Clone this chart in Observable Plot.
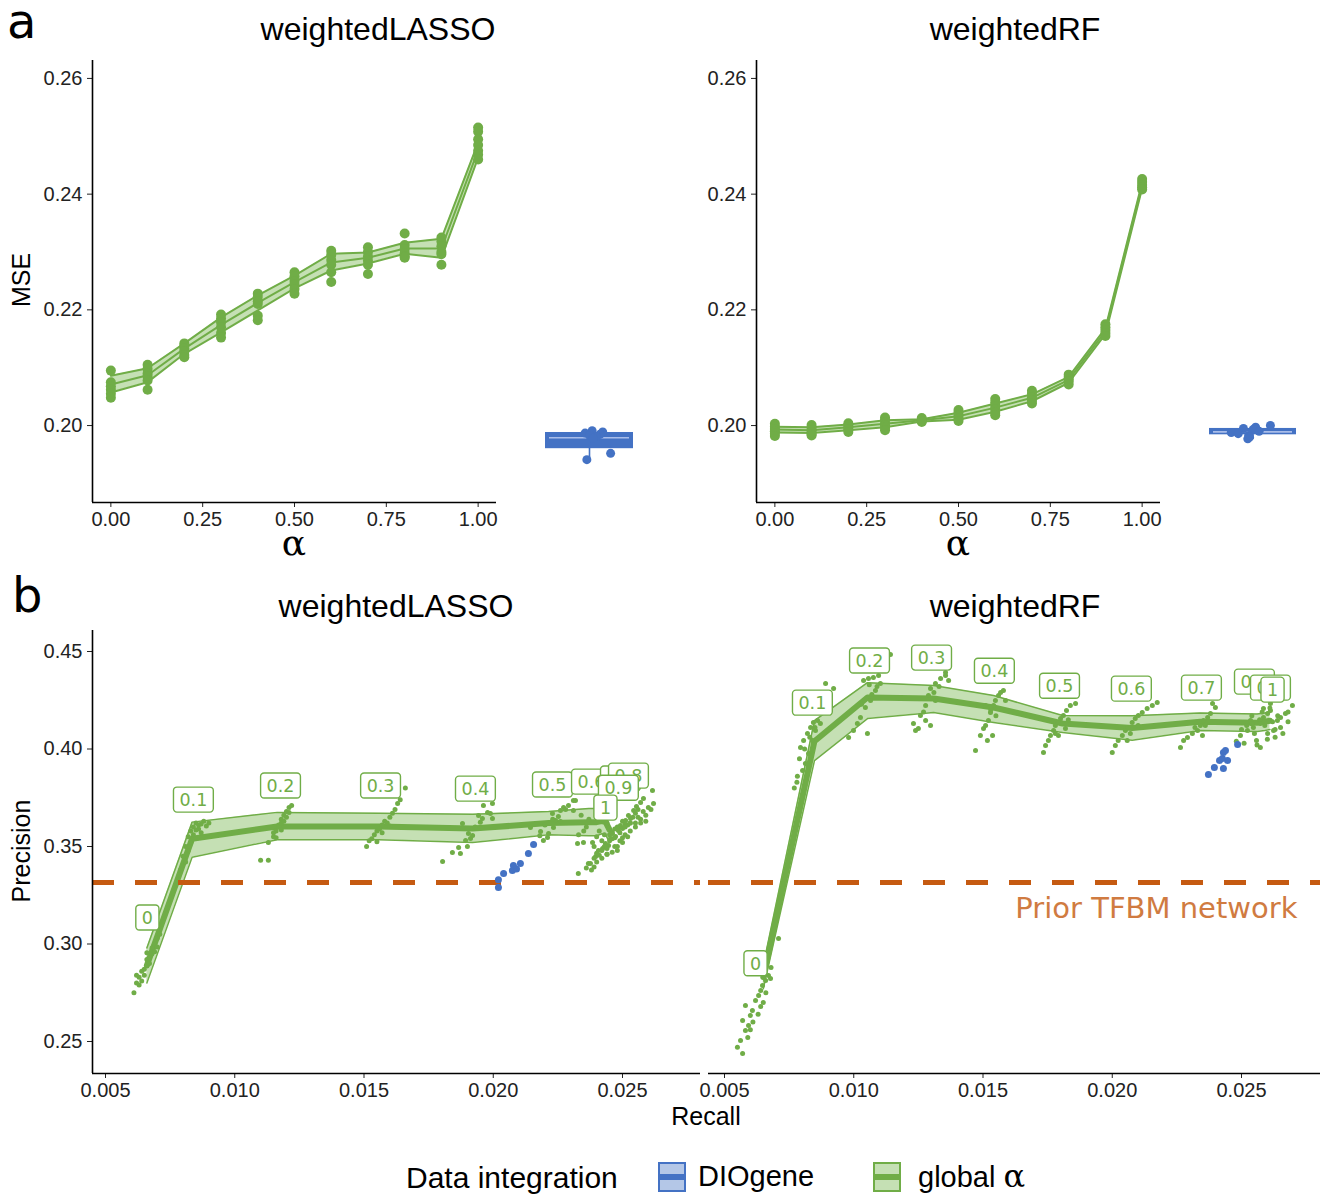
<!DOCTYPE html>
<html><head><meta charset="utf-8">
<script src="https://cdn.jsdelivr.net/npm/d3@7"></script>
<script src="https://cdn.jsdelivr.net/npm/@observablehq/plot@0.6"></script>
<style>
body{margin:0;background:#fff;}
#root{position:relative;width:1328px;height:1196px;overflow:hidden;font-family:"Liberation Sans",Arial,sans-serif;color:#000;}
.abs{position:absolute;white-space:nowrap;line-height:1.1;}
.c{transform:translate(-50%,-50%);}
.rot{transform:translate(-50%,-50%) rotate(-90deg);}
.title{font-size:32px;}
.panel{font-family:"DejaVu Sans",sans-serif;font-size:48px;line-height:0.6;}
.axt{font-size:25px;}
.alpha{font-family:"DejaVu Serif",serif;font-size:36px;}
.key{position:absolute;width:24px;height:26px;border:2px solid;top:1162px;}
.key i{position:absolute;left:0;right:0;top:10px;height:6px;}
.leg{font-size:29px;top:1177px;transform:translateY(-50%);}
</style></head><body><div id="root"></div>
<script>
// ---------- colours ----------
const GREEN = "#70AD47", GREEN_L = "#C5E0B4", BLUE = "#4472C4", BLUE_L = "#B4C7E7", ORANGE = "#C55A11";

// ---------- panel a : MSE vs alpha ----------
const alphas = [0, 0.1, 0.2, 0.3, 0.4, 0.5, 0.6, 0.7, 0.8, 0.9, 1];
const alphaTicks = [0, 0.25, 0.5, 0.75, 1];
const mseTicks = [0.20, 0.22, 0.24, 0.26];

const lassoMseLo   = [0.2057, 0.2075, 0.2124, 0.2161, 0.2199, 0.2237, 0.2268, 0.2280, 0.2297, 0.2290, 0.2463];
const lassoMseMean = [0.2071, 0.2087, 0.2133, 0.2174, 0.2212, 0.2248, 0.2282, 0.2290, 0.2306, 0.2306, 0.2476];
const lassoMseHi   = [0.2086, 0.2099, 0.2142, 0.2187, 0.2225, 0.2259, 0.2297, 0.2299, 0.2316, 0.2323, 0.2489];
const lassoMseReps = [
  [0.2095, 0.2075, 0.2068, 0.2062, 0.2055, 0.2048],
  [0.2105, 0.2098, 0.2090, 0.2085, 0.2078, 0.2062],
  [0.2142, 0.2138, 0.2133, 0.2128, 0.2122, 0.2118],
  [0.2192, 0.2185, 0.2178, 0.2170, 0.2160, 0.2152],
  [0.2228, 0.2222, 0.2215, 0.2210, 0.2190, 0.2182],
  [0.2265, 0.2258, 0.2250, 0.2244, 0.2236, 0.2228],
  [0.2302, 0.2295, 0.2286, 0.2278, 0.2265, 0.2248],
  [0.2308, 0.2300, 0.2292, 0.2285, 0.2278, 0.2262],
  [0.2332, 0.2312, 0.2305, 0.2298, 0.2292, 0.2290],
  [0.2325, 0.2318, 0.2310, 0.2300, 0.2296, 0.2278],
  [0.2515, 0.2508, 0.2495, 0.2485, 0.2475, 0.2468, 0.2460]
];
const rfMseLo   = [0.1988, 0.1987, 0.1992, 0.1997, 0.2007, 0.2010, 0.2024, 0.2042, 0.2074, 0.2158, 0.2410];
const rfMseMean = [0.1993, 0.1992, 0.1997, 0.2003, 0.2009, 0.2016, 0.2031, 0.2048, 0.2079, 0.2163, 0.2415];
const rfMseHi   = [0.1998, 0.1997, 0.2002, 0.2009, 0.2011, 0.2022, 0.2038, 0.2054, 0.2084, 0.2168, 0.2420];
const rfMseReps = [
  [0.2003, 0.1998, 0.1994, 0.1990, 0.1986, 0.1982],
  [0.2001, 0.1996, 0.1992, 0.1989, 0.1985, 0.1983],
  [0.2004, 0.2000, 0.1997, 0.1993, 0.1989],
  [0.2014, 0.2010, 0.2005, 0.2000, 0.1996, 0.1992],
  [0.2013, 0.2010, 0.2008, 0.2006],
  [0.2027, 0.2022, 0.2017, 0.2012, 0.2008],
  [0.2046, 0.2040, 0.2034, 0.2028, 0.2022, 0.2018],
  [0.2060, 0.2055, 0.2049, 0.2043, 0.2038],
  [0.2088, 0.2084, 0.2080, 0.2076, 0.2071],
  [0.2175, 0.2170, 0.2165, 0.2160, 0.2155],
  [0.2426, 0.2421, 0.2416, 0.2412, 0.2408]
];
// DIOgene boxes: [lower whisker, q1, median, q3, upper whisker]; box spans the category's width
const dioBoxSpan = [-0.5, 0.5];
const dioLassoStats = [0.1941, 0.1960, 0.1979, 0.1988, 0.1991];
const dioLassoMse    = [0.1991, 0.1989, 0.1987, 0.1985, 0.1983, 0.1981, 0.1978, 0.1952, 0.1941];
const dioLassoJitter = [0.03, 0.15, -0.05, 0.12, 0.0, 0.08, 0.04, 0.24, -0.03];
const dioRfStats = [0.1976, 0.1984, 0.1989, 0.1995, 0.2000];
const dioRfMse    = [0.2000, 0.1997, 0.1995, 0.1993, 0.1990, 0.1988, 0.1986, 0.1983, 0.1980, 0.1977];
const dioRfJitter = [0.20, 0.03, -0.11, 0.0, 0.07, -0.25, -0.17, -0.05, -0.04, -0.06];

// ---------- panel b : precision vs recall ----------
const recallTicks = [0.005, 0.010, 0.015, 0.020, 0.025];
const precisionTicks = [0.25, 0.30, 0.35, 0.40, 0.45];
const priorPrecision = 0.3315;
const alphaLabels = ["0", "0.1", "0.2", "0.3", "0.4", "0.5", "0.6", "0.7", "0.8", "0.9", "1"];

const lassoRecallMean = [0.0066, 0.00835, 0.01164, 0.01556, 0.0192, 0.02214, 0.0237, 0.0240, 0.0242, 0.02435, 0.0245];
const lassoPrecMean   = [0.289, 0.354, 0.3603, 0.3603, 0.3592, 0.362, 0.3625, 0.3625, 0.363, 0.3625, 0.3585];
const lassoPrecLo     = [0.280, 0.3445, 0.3535, 0.3535, 0.352, 0.356, 0.3555, 0.3555, 0.3565, 0.356, 0.352];
const lassoPrecHi     = [0.298, 0.3625, 0.3675, 0.367, 0.3665, 0.368, 0.3695, 0.3695, 0.3700, 0.369, 0.365];
const lassoPR = [
  [[0.0061,0.275],[0.0062,0.280],[0.0063,0.283],[0.0064,0.286],[0.0065,0.284],[0.0066,0.289],[0.0066,0.292],[0.0067,0.290],[0.0068,0.295],[0.0068,0.298],[0.0069,0.300],[0.0070,0.303],[0.0069,0.296],[0.0065,0.287],[0.0064,0.281],[0.0071,0.305],[0.0063,0.279],[0.0067,0.293],[0.0062,0.284],[0.0066,0.2955],[0.0070,0.2985]],
  [[0.0080,0.345],[0.0081,0.350],[0.0082,0.355],[0.0083,0.358],[0.0084,0.360],[0.0085,0.362],[0.0086,0.361],[0.0088,0.363],[0.0090,0.362],[0.0083,0.352],[0.0082,0.348],[0.0081,0.342],[0.0084,0.356],[0.0086,0.359],[0.0079,0.338],[0.0087,0.357],[0.0085,0.3585],[0.0087,0.3615],[0.0089,0.3605]],
  [[0.0113,0.352],[0.0115,0.355],[0.0116,0.358],[0.0117,0.361],[0.0118,0.364],[0.0119,0.366],[0.0120,0.368],[0.0121,0.370],[0.0122,0.371],[0.0117,0.360],[0.0118,0.362],[0.0115,0.357],[0.0110,0.343],[0.0113,0.343],[0.0120,0.365],[0.0119,0.363],[0.0116,0.3545],[0.0121,0.3675],[0.0118,0.3585]],
  [[0.0151,0.350],[0.0152,0.353],[0.0154,0.356],[0.0155,0.358],[0.0157,0.361],[0.0158,0.363],[0.0160,0.365],[0.0161,0.367],[0.0156,0.359],[0.0159,0.362],[0.0162,0.369],[0.0163,0.372],[0.0164,0.374],[0.0153,0.354],[0.0166,0.380],[0.0157,0.357],[0.0155,0.3525],[0.0160,0.3605]],
  [[0.01804,0.3423],[0.01842,0.3469],[0.01873,0.3464],[0.01866,0.3495],[0.0190,0.350],[0.01893,0.3531],[0.01912,0.3541],[0.0192,0.3556],[0.01904,0.3567],[0.01881,0.3618],[0.01943,0.3659],[0.01958,0.3644],[0.01978,0.3674],[0.01989,0.3669],[0.01997,0.3644],[0.01962,0.371],[0.01997,0.372],[0.0193,0.3600],[0.0195,0.3625]],
  [[0.0221,0.3546],[0.02194,0.3531],[0.02318,0.3736],[0.02272,0.370],[0.02229,0.3669],[0.0226,0.3684],[0.02233,0.3597],[0.02214,0.3567],[0.02183,0.3577],[0.02144,0.3597],[0.02241,0.3633],[0.0226,0.3628],[0.02252,0.3654],[0.0220,0.3610],[0.0223,0.3640],[0.0228,0.3690],[0.0218,0.3555]],
  [[0.02291,0.371],[0.0231,0.3685],[0.0231,0.3736],[0.02326,0.3515],[0.02349,0.352],[0.02368,0.3413],[0.02384,0.352],[0.02329,0.3362],[0.0236,0.3600],[0.0237,0.3640],[0.0234,0.3660],[0.0233,0.3560],[0.0235,0.3580]],
  [[0.02396,0.3449],[0.02407,0.3479],[0.02423,0.349],[0.02446,0.3505],[0.0245,0.356],[0.0248,0.360],[0.0250,0.363],[0.0244,0.3620],[0.0241,0.3580],[0.0240,0.355],[0.0239,0.3500],[0.0242,0.3530],[0.0246,0.3540],[0.0243,0.3560],[0.0247,0.3590],[0.0249,0.3600],[0.0251,0.3615],[0.0246,0.3575]],
  [[0.02434,0.3515],[0.02454,0.3541],[0.02461,0.3567],[0.02473,0.3551],[0.02484,0.3582],[0.02492,0.3608],[0.025,0.3592],[0.02512,0.3633],[0.0252,0.3610],[0.0254,0.3650],[0.0244,0.3460],[0.0247,0.3500],[0.0249,0.3530],[0.0251,0.3560],[0.0253,0.3580],[0.0255,0.3620],[0.0257,0.3640],[0.0250,0.3545],[0.0248,0.3480]],
  [[0.02523,0.3659],[0.02531,0.3644],[0.02543,0.3685],[0.02554,0.3705],[0.0257,0.3726],[0.02581,0.3746],[0.02616,0.3787],[0.0255,0.3670],[0.0253,0.3620],[0.0256,0.3690],[0.0255,0.3600],[0.0257,0.3620],[0.0259,0.3660],[0.0260,0.3700],[0.0262,0.3720],[0.0258,0.3680],[0.0256,0.3650],[0.0261,0.3690],[0.0259,0.3630]],
  [[0.02376,0.3413],[0.0239,0.3440],[0.0240,0.3465],[0.0242,0.3480],[0.0243,0.3500],[0.0245,0.3530],[0.0247,0.3545],[0.0249,0.357],[0.0244,0.3490],[0.0241,0.3455],[0.0251,0.360],[0.0253,0.362],[0.0238,0.3380],[0.0239,0.3395],[0.0240,0.3420],[0.0242,0.3440],[0.0244,0.3460],[0.0246,0.3470],[0.0248,0.3500],[0.0250,0.3520],[0.0252,0.3550],[0.0236,0.3390]]
];
const dioLassoPR = [[0.0202,0.329],[0.0202,0.333],[0.0204,0.3362],[0.02074,0.3377],[0.0209,0.3385],[0.02078,0.3403],[0.02105,0.3413],[0.02136,0.3464],[0.02156,0.351]];
const lassoLabelPos = [[0.00662,0.3131],[0.0084,0.3736],[0.01177,0.3808],[0.01564,0.3808],[0.01931,0.3792],[0.02229,0.3813],[0.0238,0.3828],[0.02492,0.3844],[0.02523,0.3859],[0.02484,0.3797],[0.02434,0.3695]];

const rfRecallMean = [0.0065, 0.00848, 0.01053, 0.01309, 0.01541, 0.01808, 0.02077, 0.0234, 0.0256, 0.0259, 0.0261];
const rfPrecMean   = [0.283, 0.404, 0.4264, 0.4259, 0.4213, 0.4131, 0.4108, 0.414, 0.4135, 0.414, 0.4145];
const rfPrecLo     = [0.277, 0.394, 0.4156, 0.4187, 0.4136, 0.4085, 0.4045, 0.4095, 0.409, 0.4095, 0.410];
const rfPrecHi     = [0.289, 0.4146, 0.434, 0.4326, 0.4274, 0.4172, 0.417, 0.4185, 0.418, 0.4185, 0.419];
const rfPR = [
  [[0.0057,0.2438],[0.00562,0.2505],[0.00581,0.2556],[0.00593,0.2582],[0.0057,0.2608],[0.006,0.2633],[0.00608,0.2659],[0.00581,0.2685],[0.0062,0.271],[0.00632,0.2736],[0.0064,0.2762],[0.00647,0.2787],[0.00659,0.2813],[0.0067,0.2838],[0.00678,0.2823],[0.00709,0.3028],[0.0059,0.2520],[0.0061,0.2600],[0.0064,0.2680],[0.0066,0.2750],[0.0055,0.2470],[0.0068,0.2880],[0.0060,0.2560],[0.0063,0.2640],[0.0065,0.2700]],
  [[0.00794,0.4008],[0.00806,0.4044],[0.00821,0.4079],[0.00833,0.411],[0.00844,0.4136],[0.0086,0.4146],[0.00871,0.4131],[0.00852,0.4095],[0.0084,0.4044],[0.00825,0.3977],[0.00813,0.3926],[0.00802,0.389],[0.00891,0.4336],[0.00922,0.431],[0.00782,0.3860],[0.0079,0.3950],[0.0077,0.3800],[0.0078,0.3830],[0.0081,0.4000],[0.0083,0.4060],[0.0085,0.4110]],
  [[0.01038,0.4351],[0.01057,0.4362],[0.01076,0.4367],[0.01096,0.4377],[0.01103,0.4336],[0.01084,0.43],[0.01065,0.4249],[0.01045,0.4213],[0.01026,0.4162],[0.01014,0.4131],[0.00999,0.4095],[0.01053,0.4079],[0.01142,0.4485],[0.0098,0.4059],[0.0107,0.4280],[0.0109,0.4320],[0.0103,0.4230],[0.0106,0.4330]],
  [[0.01231,0.4131],[0.01239,0.4095],[0.01258,0.4172],[0.01278,0.4223],[0.01289,0.4274],[0.01297,0.431],[0.01316,0.4336],[0.01336,0.4362],[0.01355,0.4377],[0.01367,0.4351],[0.01316,0.4249],[0.01278,0.4146],[0.01297,0.4121],[0.0125,0.4105],[0.01355,0.4392],[0.0131,0.4290],[0.0127,0.4190],[0.0133,0.4320]],
  [[0.01471,0.3992],[0.0149,0.4069],[0.01502,0.4105],[0.0151,0.4121],[0.01521,0.4146],[0.01529,0.4187],[0.01541,0.4223],[0.01548,0.4249],[0.0156,0.4274],[0.01568,0.429],[0.01579,0.43],[0.0151,0.4223],[0.01587,0.4249],[0.01537,0.4069],[0.01517,0.4044],[0.0155,0.4170],[0.0153,0.4200]],
  [[0.01742,0.4018],[0.01753,0.4044],[0.01761,0.4069],[0.01773,0.4095],[0.0178,0.4121],[0.01792,0.4136],[0.018,0.4156],[0.01811,0.4172],[0.01823,0.4197],[0.01838,0.4223],[0.01858,0.4233],[0.01792,0.4069],[0.01819,0.4105],[0.01734,0.3982],[0.0178,0.4080],[0.0183,0.4150]],
  [[0.02,0.3982],[0.02012,0.4018],[0.02023,0.4044],[0.02039,0.4069],[0.02051,0.4095],[0.02062,0.411],[0.02077,0.4136],[0.02089,0.4156],[0.02101,0.4172],[0.02116,0.4187],[0.02135,0.4208],[0.02155,0.4223],[0.02174,0.4238],[0.02058,0.4044],[0.0207,0.4080],[0.0210,0.4120]],
  [[0.02264,0.4008],[0.02276,0.4044],[0.02291,0.4059],[0.0231,0.4079],[0.0233,0.4095],[0.02341,0.4121],[0.02353,0.4146],[0.02369,0.4162],[0.0238,0.4182],[0.02388,0.4233],[0.02399,0.4213],[0.02349,0.4069],[0.0232,0.4110],[0.0236,0.4120]],
  [[0.02496,0.4069],[0.02523,0.4095],[0.02546,0.411],[0.02535,0.4146],[0.02558,0.4044],[0.0251,0.4030],[0.0254,0.4170],[0.0248,0.4040],[0.0250,0.4100],[0.0252,0.4120],[0.0255,0.4080],[0.0257,0.4150],[0.0254,0.4130],[0.0256,0.4020]],
  [[0.02573,0.4131],[0.02585,0.4162],[0.02601,0.4182],[0.02612,0.4197],[0.02573,0.4008],[0.02601,0.4079],[0.02624,0.4095],[0.0259,0.4120],[0.0260,0.4050],[0.0262,0.4140],[0.0258,0.4190],[0.0261,0.4210],[0.0263,0.4100]],
  [[0.02639,0.4146],[0.02651,0.4162],[0.0267,0.4182],[0.02697,0.4223],[0.02585,0.4208],[0.02612,0.4233],[0.02651,0.411],[0.0263,0.4060],[0.0268,0.4140],[0.0264,0.4170],[0.0266,0.4080],[0.0268,0.4190]]
];
const dioRfPR = [[0.02372,0.3869],[0.02395,0.3905],[0.02415,0.3941],[0.0243,0.3982],[0.02426,0.3951],[0.02446,0.3941],[0.0243,0.390],[0.02485,0.4023],[0.02438,0.3992]];
const rfLabelPos = [[0.0062,0.2897],[0.0084,0.4233],[0.01061,0.4449],[0.01301,0.4464],[0.01544,0.4397],[0.01796,0.432],[0.02074,0.4305],[0.02345,0.431],[0.0255,0.4341],[0.02612,0.431],[0.0262,0.43]];

// ---------- build tables ----------
const mseBand = (lo, mean, hi) => alphas.map((a, i) => ({alpha: a, lo: lo[i], mean: mean[i], hi: hi[i]}));
const msePts = reps => reps.flatMap((r, i) => r.map(v => ({alpha: alphas[i], mse: v})));
const dioStats = s => [{left: dioBoxSpan[0], right: dioBoxSpan[1], center: (dioBoxSpan[0] + dioBoxSpan[1]) / 2, lo: s[0], q1: s[1], med: s[2], q3: s[3], hi: s[4]}];
const dioPts = (arr, jit) => arr.map((v, i) => ({jit: jit[i], mse: v}));
const prBand = (r, m, lo, hi) => alphas.map((a, i) => ({alpha: a, recall: r[i], mean: m[i], lo: lo[i], hi: hi[i]}));
const prPts = clusters => clusters.flatMap((c, i) => c.map(([r, p]) => ({alpha: alphas[i], recall: r, precision: p})));
const pairPts = arr => arr.map(([r, p]) => ({recall: r, precision: p}));
const labs = pos => alphaLabels.map((t, i) => ({text: t, recall: pos[i][0], precision: pos[i][1]}));

const root = document.getElementById("root");
function place(el, left, top) {
  el.style.position = "absolute"; el.style.left = left + "px"; el.style.top = top + "px";
  root.appendChild(el);
  return el;
}
function html(cls, text, x, y) {
  const d = document.createElement("div");
  d.className = "abs " + cls; d.textContent = text;
  d.style.left = x + "px"; d.style.top = y + "px";
  root.appendChild(d);
  return d;
}
const baseStyle = {background: "transparent", fontFamily: "Liberation Sans, Arial, sans-serif", fontSize: "20px", color: "#222", overflow: "visible"};

const mseDomain = [0.1867, 0.2631];
const alphaDomain = [-0.05, 1.05];
function msePanel(band, pts) {
  return Plot.plot({
    width: 500, height: 560, marginTop: 60, marginBottom: 58, marginLeft: 92, marginRight: 4,
    style: baseStyle,
    x: {domain: alphaDomain, ticks: alphaTicks, tickFormat: d3.format(".2f"), tickSize: 5, tickPadding: 4, label: null},
    y: {domain: mseDomain, ticks: mseTicks, tickFormat: d3.format(".2f"), tickSize: 5, tickPadding: 5, label: null},
    marks: [
      Plot.areaY(band, {x: "alpha", y1: "lo", y2: "hi", fill: GREEN_L}),
      Plot.line(band, {x: "alpha", y: "lo", stroke: GREEN, strokeWidth: 2}),
      Plot.line(band, {x: "alpha", y: "hi", stroke: GREEN, strokeWidth: 2}),
      Plot.line(band, {x: "alpha", y: "mean", stroke: GREEN, strokeWidth: 2}),
      Plot.dot(pts, {x: "alpha", y: "mse", r: 5, fill: GREEN}),
      Plot.ruleX([alphaDomain[0]], {stroke: "#000", strokeWidth: 1.6}),
      Plot.ruleY([mseDomain[0]], {stroke: "#000", strokeWidth: 1.6})
    ]
  });
}
function dioPanel(stats, pts, ml, mr) {
  return Plot.plot({
    width: 160, height: 560, marginTop: 60, marginBottom: 58, marginLeft: ml, marginRight: mr,
    style: baseStyle,
    x: {domain: dioBoxSpan, axis: null},
    y: {domain: mseDomain, axis: null},
    marks: [
      Plot.ruleX(stats, {x: "center", y1: "lo", y2: "hi", stroke: BLUE, strokeWidth: 1.6}),
      Plot.rect(stats, {x1: "left", x2: "right", y1: "q1", y2: "q3", fill: BLUE}),
      Plot.ruleY(stats, {y: "med", x1: "left", x2: "right", stroke: "#A9BDE9", strokeWidth: 1.6, insetLeft: 4, insetRight: 4}),
      Plot.dot(pts, {x: "jit", y: "mse", r: 4.5, fill: BLUE})
    ]
  });
}

const precDomain = [0.23359, 0.46077];
function prPanel(band, pts, dio, lab, xDomain, showY, prior) {
  const marks = [
    Plot.areaY(band, {x: "recall", y1: "lo", y2: "hi", fill: GREEN_L}),
    Plot.line(band, {x: "recall", y: "lo", stroke: GREEN, strokeWidth: 1.5}),
    Plot.line(band, {x: "recall", y: "hi", stroke: GREEN, strokeWidth: 1.5}),
    Plot.line(band, {x: "recall", y: "mean", stroke: GREEN, strokeWidth: 6}),
    Plot.ruleY([priorPrecision], {stroke: ORANGE, strokeWidth: 5, strokeDasharray: "22,21"}),
    Plot.dot(pts, {x: "recall", y: "precision", r: 2.5, fill: GREEN}),
    Plot.dot(dio, {x: "recall", y: "precision", r: 3.5, fill: BLUE}),
    Plot.text(lab, {x: "recall", y: "precision", text: "text", fill: GREEN, fontSize: 17.5, fontFamily: "DejaVu Sans, sans-serif"}),
    Plot.ruleY([precDomain[0]], {stroke: "#000", strokeWidth: 1.6})
  ];
  if (showY) marks.push(Plot.ruleX([xDomain[0]], {stroke: "#000", strokeWidth: 1.6}));
  if (prior) marks.push(Plot.text([priorPrecision], {x: () => xDomain[1], y: d => d, text: () => "Prior TFBM network",
    textAnchor: "end", dx: -23, dy: 26, fill: "#D07B41", fontSize: 29, fontFamily: "DejaVu Sans, sans-serif"}));
  return Plot.plot({
    width: showY ? 704 : 708, height: 520, marginTop: 30, marginBottom: 47, marginLeft: 92, marginRight: 4,
    style: baseStyle,
    x: {domain: xDomain, ticks: recallTicks, tickFormat: d3.format(".3f"), tickSize: 5, tickPadding: 4, label: null},
    y: showY ? {domain: precDomain, ticks: precisionTicks, tickFormat: d3.format(".2f"), tickSize: 5, tickPadding: 5, label: null}
             : {domain: precDomain, axis: null},
    marks
  });
}
// draw geom_label-like boxes behind the green alpha labels
function boxLabels(svg) {
  [...svg.querySelectorAll("text")]
    .filter(t => getComputedStyle(t).fill === "rgb(112, 173, 71)" && alphaLabels.includes(t.textContent))
    .forEach(t => {
      const b = t.getBBox();
      const r = document.createElementNS("http://www.w3.org/2000/svg", "rect");
      r.setAttribute("x", b.x - 6); r.setAttribute("y", b.y - 3);
      r.setAttribute("width", b.width + 12); r.setAttribute("height", b.height + 5);
      r.setAttribute("rx", 3.5); r.setAttribute("fill", "#fff");
      r.setAttribute("stroke", GREEN); r.setAttribute("stroke-width", 1.4);
      if (t.getAttribute("transform")) r.setAttribute("transform", t.getAttribute("transform"));
      t.parentNode.insertBefore(r, t);
    });
}

// ---------- draw ----------
place(msePanel(mseBand(lassoMseLo, lassoMseMean, lassoMseHi), msePts(lassoMseReps)), 0, 0);
place(dioPanel(dioStats(dioLassoStats), dioPts(dioLassoMse, dioLassoJitter), 45, 27), 500, 0);
place(msePanel(mseBand(rfMseLo, rfMseMean, rfMseHi), msePts(rfMseReps)), 664, 0);
place(dioPanel(dioStats(dioRfStats), dioPts(dioRfMse, dioRfJitter), 45, 28), 1164, 0);

const bl = place(prPanel(prBand(lassoRecallMean, lassoPrecMean, lassoPrecLo, lassoPrecHi), prPts(lassoPR), pairPts(dioLassoPR),
  labs(lassoLabelPos), [0.004497, 0.028017], true, false), 0, 600);
const br = place(prPanel(prBand(rfRecallMean, rfPrecMean, rfPrecLo, rfPrecHi), prPts(rfPR), pairPts(dioRfPR),
  labs(rfLabelPos), [0.004381, 0.028056], false, true), 616, 600);
boxLabels(bl); boxLabels(br);

// ---------- text ----------
html("panel", "a", 7, 7);
html("panel", "b", 12, 581);
html("title c", "weightedLASSO", 378, 30);
html("title c", "weightedRF", 1015, 30);
html("title c", "weightedLASSO", 396, 607);
html("title c", "weightedRF", 1015, 607);
html("axt rot", "MSE", 22, 280);
html("axt rot", "Precision", 22, 851);
html("alpha c", "α", 294, 543);
html("alpha c", "α", 958, 543);
html("axt c", "Recall", 706, 1117);

// ---------- legend ----------
const lg = html("leg", "Data integration", 406, 1177); lg.style.fontSize = "30px";
function key(x, fill, stroke) {
  const k = document.createElement("div");
  k.className = "key"; k.style.left = x + "px"; k.style.background = fill; k.style.borderColor = stroke;
  const i = document.createElement("i"); i.style.background = stroke; k.appendChild(i);
  root.appendChild(k);
}
key(658, BLUE_L, BLUE);
html("leg", "DIOgene", 698, 1177);
key(873, GREEN_L, GREEN);
const g = html("leg", "global ", 918, 1177);
const al = document.createElement("span"); al.textContent = "α"; al.style.fontFamily = "DejaVu Serif, serif"; al.style.fontSize = "32px"; g.appendChild(al);
</script></body></html>
